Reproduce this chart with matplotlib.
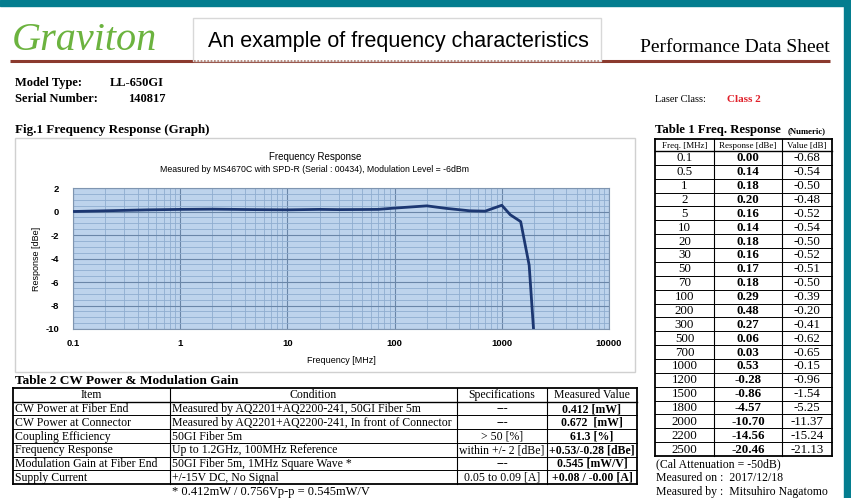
import matplotlib
matplotlib.use("Agg")
import matplotlib.pyplot as plt
from matplotlib.patches import Rectangle
from matplotlib.ticker import FixedLocator, NullFormatter

plt.rcParams["axes.unicode_minus"] = False

# ---- data ----
freq_mhz = [0.1, 0.5, 1, 2, 5, 10, 20, 30, 50, 70, 100, 200, 300, 500, 700,
            1000, 1200, 1500, 1800, 2000, 2200, 2500]
freq_labels = ["0.1", "0.5", "1", "2", "5", "10", "20", "30", "50", "70", "100",
               "200", "300", "500", "700", "1000", "1200", "1500", "1800",
               "2000", "2200", "2500"]
response_dbe = [0.00, 0.14, 0.18, 0.20, 0.16, 0.14, 0.18, 0.16, 0.17, 0.18, 0.29,
                0.48, 0.27, 0.06, 0.03, 0.53, -0.28, -0.86, -4.57, -10.70,
                -14.56, -20.46]
value_db = [-0.68, -0.54, -0.50, -0.48, -0.52, -0.54, -0.50, -0.52, -0.51, -0.50,
            -0.39, -0.20, -0.41, -0.62, -0.65, -0.15, -0.96, -1.54, -5.25,
            -11.37, -15.24, -21.13]

x_ticks = [0.1, 1, 10, 100, 1000, 10000]
x_tick_labels = ["0.1", "1", "10", "100", "1000", "10000"]
y_ticks = [2, 0, -2, -4, -6, -8, -10]

t2_header = ["Item", "Condition", "Specifications", "Measured Value"]
t2_items = ["CW Power at Fiber End", "CW Power at Connector", "Coupling Efficiency",
            "Frequency Response", "Modulation Gain at Fiber End", "Supply Current"]
t2_conditions = ["Measured by AQ2201+AQ2200-241, 50GI Fiber 5m",
                 "Measured by AQ2201+AQ2200-241, In front of Connector",
                 "50GI Fiber 5m",
                 "Up to 1.2GHz, 100MHz Reference",
                 "50GI Fiber 5m, 1MHz Square Wave *",
                 "+/-15V DC, No Signal"]
t2_specs = ["---", "---", "> 50 [%]", "within +/- 2 [dBe]", "---", "0.05 to 0.09 [A]"]
t2_measured = ["0.412 [mW]", "0.672  [mW]", "61.3 [%]", "+0.53/-0.28 [dBe]",
               "0.545 [mW/V]", "+0.08 / -0.00 [A]"]

W, H = 851, 498
SERIF = "Liberation Serif"
SANS = "Liberation Sans"

fig = plt.figure(figsize=(W / 100, H / 100), dpi=100)
fig.patch.set_facecolor("white")

# page layer in pixel coordinates
pg = fig.add_axes([0, 0, 1, 1])
pg.set_xlim(0, W)
pg.set_ylim(H, 0)
pg.axis("off")

teal = "#047d8f"
pg.add_patch(Rectangle((0, 0), W, 6, color=teal, zorder=0))
pg.add_patch(Rectangle((844, 0), 7, H, color=teal, zorder=0))

# header
pg.text(12, 40, "Graviton", fontsize=29, color="#6cb33f", family=SERIF,
        style="italic", va="center")
pg.plot([10, 830], [61, 61], color="#8b3a2e", lw=2.2, solid_capstyle="butt")
pg.add_patch(Rectangle((193, 18), 408, 43, facecolor="white", edgecolor="#d8d8d8",
                       lw=1, zorder=3))
pg.plot([194, 600], [61, 61], color="#b07a6e", lw=1.2, ls=(0, (1, 1)), zorder=4)
pg.text(398, 41, "An example of frequency characteristics", fontsize=15.5,
        family=SANS, ha="center", va="center", zorder=5)
pg.text(830, 52, "Performance Data Sheet", fontsize=14, family=SERIF,
        ha="right", va="baseline")

pg.text(15, 86, "Model Type:", fontsize=9, family=SERIF, weight="bold", va="baseline")
pg.text(110, 86, "LL-650GI", fontsize=9, family=SERIF, weight="bold", va="baseline")
pg.text(15, 102, "Serial Number:", fontsize=9, family=SERIF, weight="bold", va="baseline")
pg.text(128, 102, "140817", fontsize=9, family=SERIF, weight="bold", va="baseline")
pg.text(655, 102, "Laser Class:", fontsize=7.5, family=SERIF, va="baseline")
pg.text(727, 102, "Class 2", fontsize=8, family=SERIF, weight="bold", color="#e0202a",
        va="baseline")

# Fig.1
pg.text(15, 133, "Fig.1 Frequency Response (Graph)", fontsize=9.4, family=SERIF,
        weight="bold", va="baseline")
pg.add_patch(Rectangle((15, 138), 620, 234, facecolor="white", edgecolor="#d0d0d0", lw=1))
pg.text(315, 157, "Frequency Response", fontsize=7, family=SANS, ha="center", va="center")
pg.text(315, 169, "Measured by MS4670C with SPD-R (Serial : 00434), Modulation Level = -6dBm",
        fontsize=6.3, family=SANS, ha="center", va="center")

L, R, T, B = 73, 609, 188, 329
ax = fig.add_axes([L / W, (H - B) / H, (R - L) / W, (B - T) / H])
ax.set_facecolor("#bdd3ec")
ax.semilogx(freq_mhz, response_dbe, color="#1c3772", lw=2, zorder=5)
ax.set_xlim(0.1, 10000)
ax.set_ylim(-10, 2)
ax.set_xticks(x_ticks)
ax.set_xticklabels(x_tick_labels)
ax.set_yticks(y_ticks)
ax.xaxis.set_minor_locator(FixedLocator([m * 10.0 ** e for e in range(-1, 4) for m in range(2, 10)]))
ax.xaxis.set_minor_formatter(NullFormatter())
ax.yaxis.set_minor_locator(FixedLocator([v / 2 for v in range(-20, 5)]))
ax.grid(which="major", color="#6a86a8", lw=0.8)
ax.grid(which="minor", color="#8fadd0", lw=0.6)
ax.tick_params(which="both", length=0)
ax.tick_params(axis="x", pad=7, labelsize=6.8)
ax.tick_params(axis="y", pad=10, labelsize=6.8)
for lab in ax.get_xticklabels() + ax.get_yticklabels():
    lab.set_family(SANS)
    lab.set_weight("bold")
for s in ax.spines.values():
    s.set_color("#7f95b0")
    s.set_linewidth(0.8)
ax.set_xlabel("Frequency [MHz]", fontsize=6.5, family=SANS, labelpad=6)
ax.set_ylabel("Response [dBe]", fontsize=6.5, family=SANS, labelpad=3)

# Table 1
pg.text(655, 133, "Table 1 Freq. Response", fontsize=9.2, family=SERIF, weight="bold",
        va="baseline")
pg.text(788, 133, "(Numeric)", fontsize=6.3, family=SERIF, weight="bold", va="baseline")
c1 = [655, 714, 782, 832]
t1_top, t1_head, t1_bot = 139, 151, 456
rh1 = (t1_bot - t1_head) / len(freq_mhz)
for x in c1:
    pg.plot([x, x], [t1_top, t1_bot], color="black", lw=1.3 if x in (c1[0], c1[-1]) else 0.8)
pg.plot([c1[0], c1[-1]], [t1_top, t1_top], color="black", lw=1.3)
pg.plot([c1[0], c1[-1]], [t1_bot, t1_bot], color="black", lw=1.3)
pg.plot([c1[0], c1[-1]], [t1_head, t1_head], color="black", lw=1.0)
for i in range(1, len(freq_mhz)):
    y = t1_head + i * rh1
    pg.plot([c1[0], c1[-1]], [y, y], color="black", lw=0.7)
hdr1 = ["Freq. [MHz]", "Response [dBe]", "Value [dB]"]
for j, h in enumerate(hdr1):
    pg.text((c1[j] + c1[j + 1]) / 2, (t1_top + t1_head) / 2 + 0.5, h, fontsize=6.5,
            family=SERIF, ha="center", va="center")
for i in range(len(freq_mhz)):
    yc = t1_head + (i + 0.5) * rh1 + 0.5
    pg.text((c1[0] + c1[1]) / 2, yc, freq_labels[i], fontsize=9.3, family=SERIF,
            ha="center", va="center")
    pg.text((c1[1] + c1[2]) / 2, yc, "%.2f" % response_dbe[i], fontsize=9.3, family=SERIF,
            weight="bold", ha="center", va="center")
    pg.text((c1[2] + c1[3]) / 2, yc, "%.2f" % value_db[i], fontsize=9.3, family=SERIF,
            ha="center", va="center")
pg.text(656, 467, "(Cal Attenuation = -50dB)", fontsize=8.5, family=SERIF, va="baseline")
pg.text(656, 481, "Measured on :  2017/12/18", fontsize=8.5, family=SERIF, va="baseline")
pg.text(656, 495, "Measured by :  Mitsuhiro Nagatomo", fontsize=8.5, family=SERIF, va="baseline")

# Table 2
pg.text(15, 384, "Table 2 CW Power & Modulation Gain", fontsize=9.6, family=SERIF,
        weight="bold", va="baseline")
c2 = [13, 170, 457, 547, 637]
t2_top, t2_bot = 388, 484
nrow = len(t2_items) + 1
rh2 = (t2_bot - t2_top) / nrow
for x in c2:
    pg.plot([x, x], [t2_top, t2_bot], color="black", lw=1.3 if x in (c2[0], c2[-1]) else 0.8)
for i in range(nrow + 1):
    y = t2_top + i * rh2
    pg.plot([c2[0], c2[-1]], [y, y], color="black",
            lw=1.3 if i in (0, nrow) else (1.0 if i == 1 else 0.7))
FS2 = 8.5
for j, h in enumerate(t2_header):
    pg.text((c2[j] + c2[j + 1]) / 2, t2_top + rh2 / 2 + 0.5, h, fontsize=FS2, family=SERIF,
            ha="center", va="center")
for i in range(len(t2_items)):
    yc = t2_top + (i + 1.5) * rh2 + 0.5
    pg.text(c2[0] + 2, yc, t2_items[i], fontsize=FS2, family=SERIF, va="center")
    pg.text(c2[1] + 2, yc, t2_conditions[i], fontsize=FS2, family=SERIF, va="center")
    pg.text((c2[2] + c2[3]) / 2, yc, t2_specs[i], fontsize=FS2, family=SERIF,
            ha="center", va="center")
    pg.text((c2[3] + c2[4]) / 2, yc, t2_measured[i], fontsize=FS2, family=SERIF,
            weight="bold", ha="center", va="center")
pg.text(172, 495, "* 0.412mW / 0.756Vp-p = 0.545mW/V", fontsize=9, family=SERIF,
        va="baseline")

fig.savefig("out.png", dpi=100)
